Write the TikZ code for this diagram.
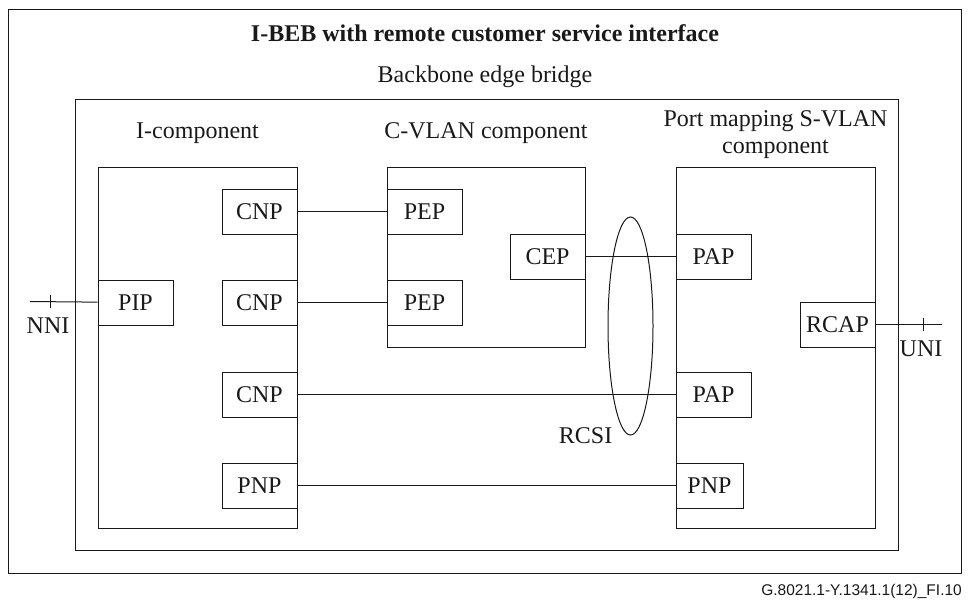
\documentclass[tikz,border=0pt]{standalone}
\usepackage{fontspec}
\setmainfont{Liberation Serif}
\newfontfamily\figfont{Liberation Sans}
\usepackage{tikz}
\usetikzlibrary{positioning}
\usetikzlibrary{shapes.geometric}
\tikzset{
frame_box/.style={rectangle, draw, line width=1pt, anchor=center, inner sep=0pt},
port_box/.style={rectangle, draw, line width=1pt, fill=white, inner sep=0pt, minimum width=75pt, minimum height=45pt, font=\fontsize{24}{27}\selectfont},
label_text/.style={inner sep=0pt, font=\fontsize{24}{27}\selectfont},
link/.style={line width=1pt}
}

\begin{document}
\begin{tikzpicture}[x=1pt, y=-1pt, color=black!90]
    \useasboundingbox (0,0) rectangle (971,600);
    % frames
    \node[frame_box, minimum width=953pt, minimum height=564pt] (outer) at (484.5,291) {};
    \node[frame_box, minimum width=823pt, minimum height=451pt] (bridge) at (486.5,324.5) {};
    \node[frame_box, minimum width=199pt, minimum height=361pt] (icomp) at (197.5,347.5) {};
    \node[frame_box, minimum width=198pt, minimum height=180pt] (cvlan) at (486,257) {};
    \node[frame_box, minimum width=199pt, minimum height=361pt] (pmap) at (775.5,347.5) {};
    % titles
    \node[label_text, anchor=base, font=\bfseries\fontsize{24}{27}\selectfont] (title) at (485,41) {I-BEB with remote customer service interface};
    \node[label_text, anchor=base] (bridge_label) at (485,82.5) {Backbone edge bridge};
    \node[label_text, above=28pt of icomp, anchor=base] (icomp_label) {I-component};
    \node[label_text, above=28pt of cvlan, anchor=base] (cvlan_label) {C-VLAN component};
    \node[label_text, align=center, above=13pt of pmap, anchor=base] (pmap_label) {Port mapping S-VLAN\\component};
    % I-component ports
    \node[port_box] (cnp_a) [below left=22pt and 0pt of icomp.north east] {CNP};
    \node[port_box] (cnp_b) [below=45pt of cnp_a] {CNP};
    \node[port_box] (cnp_c) [below=46pt of cnp_b] {CNP};
    \node[port_box] (pnp_a) [below=45pt of cnp_c] {PNP};
    \node[port_box, anchor=west] (pip) at (icomp.west |- cnp_b) {PIP};
    % C-VLAN ports
    \node[port_box] (pep_a) [below right=22pt and 0pt of cvlan.north west] {PEP};
    \node[port_box] (pep_b) [below=45pt of pep_a] {PEP};
    \node[port_box] (cep) [below left=67pt and 0pt of cvlan.north east] {CEP};
    % S-VLAN ports
    \node[port_box, anchor=west] (pap_a) at (pmap.west |- cep) {PAP};
    \node[port_box, anchor=west] (pap_b) at (pmap.west |- cnp_c) {PAP};
    \node[port_box, anchor=west, minimum width=67pt] (pnp_b) at (pmap.west |- pnp_a) {PNP};
    \node[port_box, anchor=east, yshift=23pt] (rcap) at (pmap.east) {RCAP};
    % links
    \draw[link] (cnp_a) -- (pep_a);
    \draw[link] (cnp_b) -- (pep_b);
    \draw[link] (cep) -- (pap_a);
    \draw[link] (cnp_c) -- (pap_b);
    \draw[link] (pnp_a) -- (pnp_b);
    % RCSI
    \node[draw, ellipse, line width=1pt, inner sep=0pt, minimum width=45pt, minimum height=218pt] (rcsi) at (630.5,326) {};
    \node[label_text] (rcsi_label) [left=18pt of rcsi.south] {RCSI};
    % NNI / UNI
    \coordinate (nni_end) at (30,301.5);
    \coordinate (nni_tick) at (50,301.5);
    \draw[link] (pip) -- (nni_end);
    \draw[link] ([yshift=6.5pt]nni_tick) -- ([yshift=-6.5pt]nni_tick);
    \node[label_text] (nni) [below=16.5pt of nni_tick, xshift=-2pt] {NNI};
    \coordinate (uni_end) at (942,324.5);
    \coordinate (uni_tick) at (923,324.5);
    \draw[link] (rcap) -- (uni_end);
    \draw[link] ([yshift=6.5pt]uni_tick) -- ([yshift=-6.5pt]uni_tick);
    \node[label_text] (uni) [below=16.5pt of uni_tick, xshift=-2pt] {UNI};
    % figure number
    \node[inner sep=0pt, anchor=base east, font=\figfont\fontsize{15.5}{18}\selectfont] (fig_id) at (962,595) {G.8021.1-Y.1341.1(12)\_FI.10};
\end{tikzpicture}
\end{document}
